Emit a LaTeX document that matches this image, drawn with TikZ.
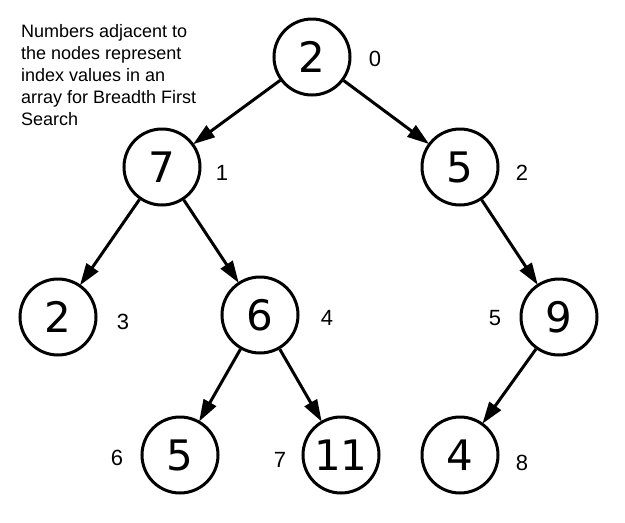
\documentclass[tikz,border=0pt]{standalone}
\usepackage{fontspec}
\setmainfont{Liberation Sans}
\newfontfamily\nodefont{DejaVu Sans}
\usetikzlibrary{arrows.meta}
\begin{document}
\begin{tikzpicture}[x=1pt,y=-1pt,
  tnode/.style={circle,draw=black,line width=3pt,minimum size=76pt,inner sep=0pt,font=\nodefont\fontsize{42}{42}\selectfont},
  idx/.style={font=\fontsize{22}{22}\selectfont,inner sep=0pt},
  edge/.style={line width=3pt,-{Triangle[length=22pt,width=14pt]},shorten >=-1pt}]
\useasboundingbox[fill=white] (0,0) rectangle (625,523);
\node[tnode] (n0) at (312,57) {2};
\node[tnode] (n1) at (162,167) {7};
\node[tnode] (n2) at (460,167) {5};
\node[tnode] (n3) at (58,317) {2};
\node[tnode] (n4) at (260,315) {6};
\node[tnode] (n5) at (559,317) {9};
\node[tnode] (n6) at (180,455) {5};
\node[tnode] (n7) at (341,455) {11};
\node[tnode] (n8) at (460,455) {4};
\draw[edge] (n0) -- (n1);
\draw[edge] (n0) -- (n2);
\draw[edge] (n1) -- (n3);
\draw[edge] (n1) -- (n4);
\draw[edge] (n2) -- (n5);
\draw[edge] (n4) -- (n6);
\draw[edge] (n4) -- (n7);
\draw[edge] (n5) -- (n8);
\node[idx] (i0) at (375,59) {0};
\node[idx] (i1) at (222,173) {1};
\node[idx] (i2) at (522,173) {2};
\node[idx] (i3) at (123,322) {3};
\node[idx] (i4) at (327,318) {4};
\node[idx] (i5) at (495,318) {5};
\node[idx] (i6) at (117,458) {6};
\node[idx] (i7) at (280,460) {7};
\node[idx] (i8) at (522,463) {8};
\node[anchor=north west,align=left,inner sep=0pt,font=\fontsize{18}{22}\selectfont] (note) at (21,24) {Numbers adjacent to\\the nodes represent\\index values in an\\array for Breadth First\\Search};
\end{tikzpicture}
\end{document}
